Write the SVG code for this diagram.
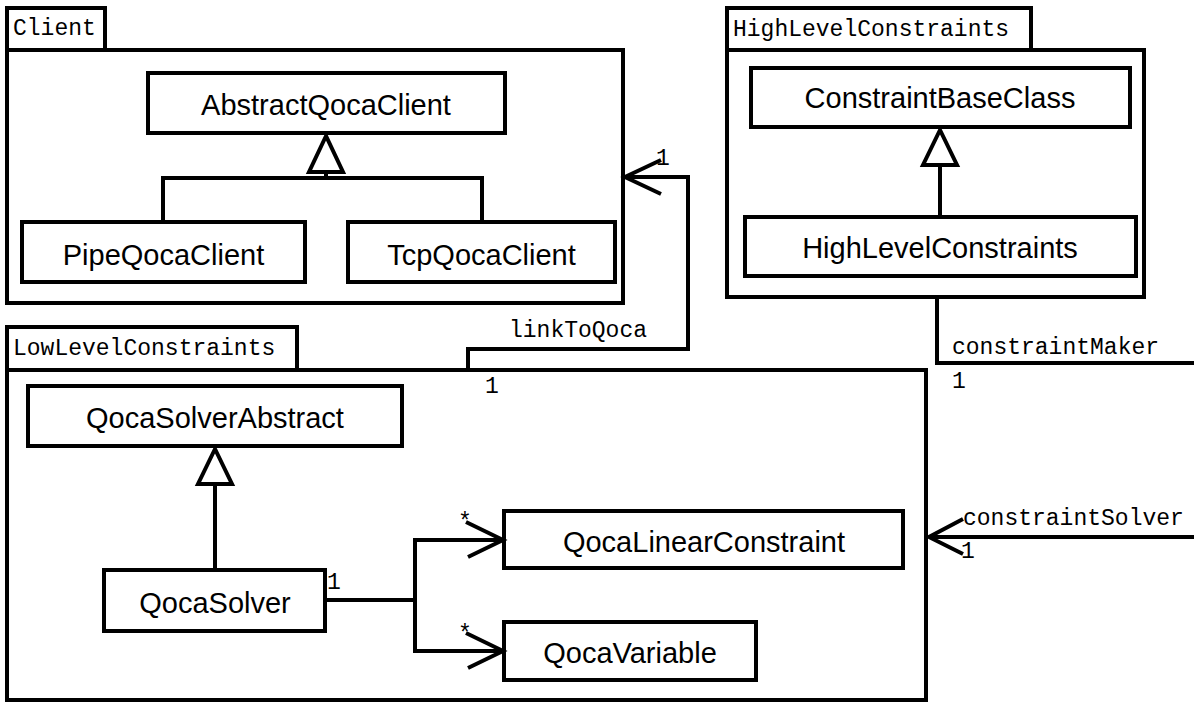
<svg xmlns="http://www.w3.org/2000/svg" width="1194" height="703" viewBox="0 0 1194 703">
<style>
.pkg{fill:#fff;stroke:#000;stroke-width:4}
.cls{fill:#fff;stroke:#000;stroke-width:4}
.cn{font-family:"Liberation Sans",Arial,sans-serif;font-size:29px;text-anchor:middle;fill:#000}
.mono{font-family:"Liberation Mono","Courier New",monospace;font-size:23px;fill:#000}
.ln{fill:none;stroke:#000;stroke-width:4}
.gen{fill:#fff;stroke:#000;stroke-width:4;stroke-linejoin:miter}
</style>
<rect width="1194" height="703" fill="#fff"/>
<g id="pkg-client">
<rect class="pkg" x="7" y="8" width="98" height="42"/>
<rect class="pkg" x="7" y="50" width="616" height="253"/>
<text class="mono" x="13" y="35">Client</text>
</g>
<g id="pkg-high">
<rect class="pkg" x="727" y="8" width="304" height="42"/>
<rect class="pkg" x="727" y="50" width="417" height="247"/>
<text class="mono" x="733" y="36">HighLevelConstraints</text>
</g>
<g id="pkg-low">
<rect class="pkg" x="7" y="327" width="290" height="43"/>
<rect class="pkg" x="7" y="370" width="919" height="330"/>
<text class="mono" x="13" y="355">LowLevelConstraints</text>
</g>
<g id="AbstractQocaClient"><rect class="cls" x="148" y="73" width="357" height="60"/><text class="cn" x="326" y="115">AbstractQocaClient</text></g>
<g id="PipeQocaClient"><rect class="cls" x="22" y="222" width="283" height="60"/><text class="cn" x="163.5" y="265">PipeQocaClient</text></g>
<g id="TcpQocaClient"><rect class="cls" x="348" y="222" width="267" height="60"/><text class="cn" x="481.5" y="265">TcpQocaClient</text></g>
<g id="ConstraintBaseClass"><rect class="cls" x="751" y="68" width="379" height="59"/><text class="cn" x="940" y="108">ConstraintBaseClass</text></g>
<g id="HighLevelConstraints"><rect class="cls" x="745" y="217" width="391" height="59"/><text class="cn" x="940" y="258">HighLevelConstraints</text></g>
<g id="QocaSolverAbstract"><rect class="cls" x="28" y="386" width="374" height="60"/><text class="cn" x="215" y="428">QocaSolverAbstract</text></g>
<g id="QocaSolver"><rect class="cls" x="104" y="570" width="221" height="61"/><text class="cn" x="215" y="613">QocaSolver</text></g>
<g id="QocaLinearConstraint"><rect class="cls" x="504" y="511" width="399" height="57"/><text class="cn" x="704" y="552">QocaLinearConstraint</text></g>
<g id="QocaVariable"><rect class="cls" x="504" y="622" width="252" height="58"/><text class="cn" x="630" y="663">QocaVariable</text></g>
<g id="connectors">
<!-- generalization Client -->
<polyline class="ln" points="163,222 163,178 482,178 482,222"/>
<line class="ln" x1="326" y1="178" x2="326" y2="172"/>
<polygon class="gen" points="326,136 309,172 343,172"/>
<!-- generalization High -->
<line class="ln" x1="940" y1="217" x2="940" y2="165"/>
<polygon class="gen" points="940,130 923,165 957,165"/>
<!-- generalization Low -->
<line class="ln" x1="215" y1="570" x2="215" y2="484"/>
<polygon class="gen" points="215,449 198,484 232,484"/>
<!-- QocaSolver associations -->
<polyline class="ln" points="325,600 415,600"/>
<polyline class="ln" points="503,540 415,540 415,651 503,651"/>
<polyline class="ln" points="466,522 503,540 468,557"/>
<polyline class="ln" points="466,633 503,651 468,668"/>
<text class="mono" x="327" y="589">1</text>
<text class="mono" x="458" y="529">*</text>
<text class="mono" x="458" y="641">*</text>
<!-- linkToQoca -->
<polyline class="ln" points="468,370 468,349 688,349 688,177 625,177"/>
<polyline class="ln" points="661,160 625,177 661,194"/>
<text class="mono" x="509" y="337">linkToQoca</text>
<text class="mono" x="485" y="393">1</text>
<text class="mono" x="656" y="165">1</text>
<!-- constraintMaker -->
<polyline class="ln" points="937,297 937,363 1194,363"/>
<text class="mono" x="952" y="354">constraintMaker</text>
<text class="mono" x="952" y="388">1</text>
<!-- constraintSolver -->
<line class="ln" x1="1194" y1="537" x2="929" y2="537"/>
<polyline class="ln" points="963,519 929,537 963,554"/>
<text class="mono" x="963" y="525">constraintSolver</text>
<text class="mono" x="961" y="558">1</text>
</g>
</svg>
